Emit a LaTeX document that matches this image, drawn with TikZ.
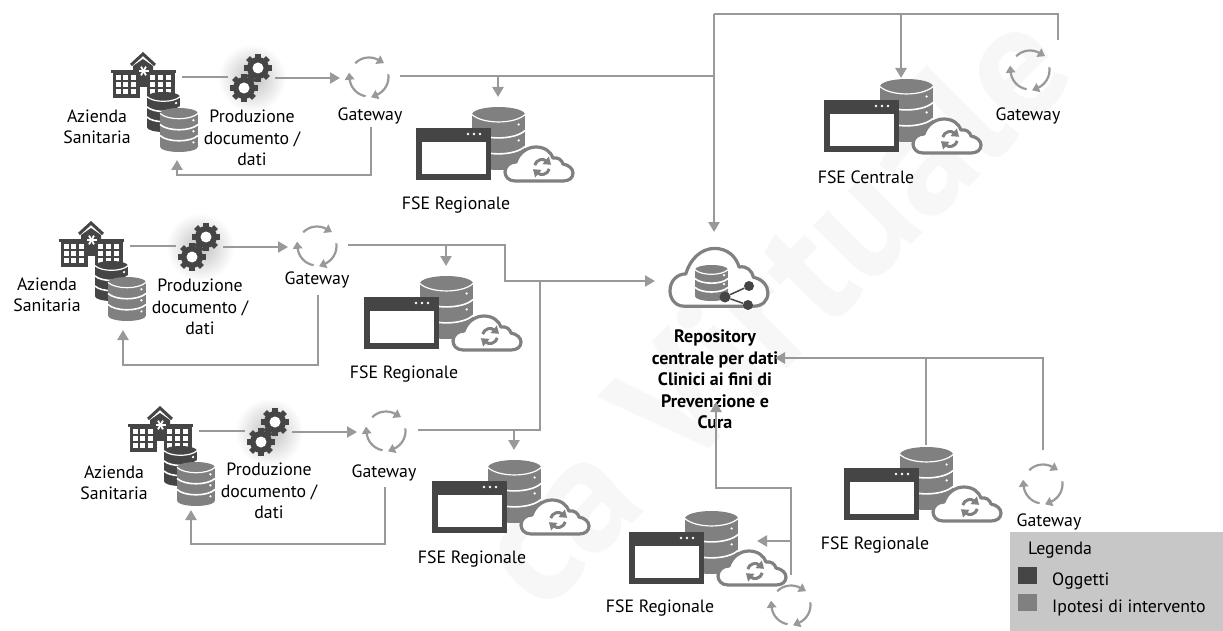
\documentclass[tikz,border=0pt]{standalone}
\usepackage{fontspec}
\usepackage{xcolor}
\setmainfont{PT Sans}
\usetikzlibrary{arrows.meta, positioning}

\definecolor{darkicon}{gray}{0.27}
\definecolor{midicon}{gray}{0.50}
\definecolor{linegray}{gray}{0.60}
\definecolor{legendgray}{gray}{0.78}

% cylinder: x, y, width, height, colour
\newcommand{\dbcyl}[5]{
    \pgfmathsetmacro{\rx}{#3/2}
    \pgfmathsetmacro{\ry}{#3/7}
    \pgfmathsetmacro{\cx}{#1+\rx}
    \pgfmathsetmacro{\re}{#1+#3}
    \pgfmathsetmacro{\yt}{#2+\ry}
    \pgfmathsetmacro{\yb}{#2+#4-\ry}
    \pgfmathsetmacro{\bh}{(\yb-\yt)/3}
    \fill[#5] (\cx,\yt) ellipse [x radius=\rx pt, y radius=\ry pt];
    \fill[#5] (\cx,\yb) ellipse [x radius=\rx pt, y radius=\ry pt];
    \fill[#5] (#1,\yt) rectangle (\re,\yb);
    \draw[white, line width=1.2pt] (#1,\yt) .. controls (#1+.2*#3,\yt+1.3*\ry) and (#1+.8*#3,\yt+1.3*\ry) .. (\re,\yt);
    \draw[white, line width=1.6pt] (#1,\yt+\bh) .. controls (#1+.2*#3,\yt+\bh+1.3*\ry) and (#1+.8*#3,\yt+\bh+1.3*\ry) .. (\re,\yt+\bh);
    \draw[white, line width=1.6pt] (#1,\yt+2*\bh) .. controls (#1+.2*#3,\yt+2*\bh+1.3*\ry) and (#1+.8*#3,\yt+2*\bh+1.3*\ry) .. (\re,\yt+2*\bh);
    \foreach \k in {0,1,2}
        \fill[white] (\re-.12*#3,\yt+\k*\bh+.62*\bh) circle (1.3pt);
}

\tikzset{
    cloudicon/.pic={
        \draw[midicon, fill=white, line width=3.2pt, line join=round]
            (10,36) .. controls (3,36) and (0,31) .. (0,27)
            .. controls (0,21) and (5,17) .. (11,17)
            .. controls (14,8) and (22,2) .. (31,2)
            .. controls (40,2) and (46,7) .. (48,13)
            .. controls (53,12) and (57,15) .. (58,19)
            .. controls (64,20) and (68,24) .. (68,28)
            .. controls (68,33) and (64,36) .. (58,36) -- cycle;
    },
    gearicon/.pic={
        \fill[darkicon] (0,0) circle (11pt);
        \foreach \a in {0,45,...,315}
            \draw[darkicon, line width=5.5pt] (\a:9pt) -- (\a:14pt);
        \fill[white] (0,0) circle (5.5pt);
    },
    gearpair/.pic={
        \shade[inner color=gray!50, outer color=white] (0,0) circle (34pt);
        \pic at (6,-10) {gearicon};
        \pic at (-8,10) {gearicon};
    },
    gateicon/.pic={
        \foreach \a in {135, 8, -100} {
            \draw[linegray, line width=2.2pt] (\a:19.5pt) arc [start angle=\a, delta angle=-75, radius=19.5pt];
            \fill[linegray, rotate=\a-75] (19.5pt,0pt) ++(-5pt,1pt) -- ++(10pt,0pt) -- ++(-5pt,-7pt) -- cycle;
        }
    },
    hospital/.pic={
        % origin at the top left of the icon
        \draw[darkicon, line width=3pt] (20,13) -- (32,2) -- (44,13);
        \fill[darkicon] (2,20) rectangle (64,46);
        \fill[darkicon] (22,14) -- (32,7) -- (42,14) -- (42,20) -- (22,20) -- cycle;
        \fill[darkicon] (0,18) rectangle (65,21);
        \foreach \x in {5,12,20,39,47,55}
            \foreach \y in {23,30,37}
                \fill[white] (\x,\y) rectangle +(5,5);
        \fill[white] (29,35) rectangle (36,46);
        \foreach \a in {0,60,120}
            \draw[white, line width=1.8pt] (32.5,19) ++(\a:5pt) -- ++(\a+180:10pt);
    },
    dbpair/.pic={
        \dbcyl{0}{0}{33}{40}{darkicon}
        \dbcyl{13}{16}{38}{44}{midicon}
    },
    fseicon/.pic={
        % origin at the top left of the window
        \dbcyl{56}{-21}{53}{63}{midicon}
        \fill[darkicon] (0,0) rectangle (75,52);
        \fill[white] (6,14) rectangle (70,46);
        \foreach \x in {52,58,64}
            \fill[white] (\x,6) circle (1.3pt);
        \pic at (89,17) {cloudicon};
        \begin{scope}[shift={(126,39)}]
            \foreach \a in {165, -15} {
                \draw[midicon, line width=3pt] (\a:7.5pt) arc [start angle=\a, delta angle=-115, radius=7.5pt];
                \fill[midicon, rotate=\a-115] (7.5pt,0pt) ++(-5pt,1.5pt) -- ++(10pt,0pt) -- ++(-5pt,-7pt) -- cycle;
            }
        \end{scope}
    }
}

\begin{document}
\begin{tikzpicture}[
        x=1pt, y=-1pt,
        every node/.style={inner sep=0pt, align=center, font=\fontsize{17.8}{21.5}\selectfont},
        boldlabel/.style={font=\bfseries\fontsize{18}{21.5}\selectfont},
        gatenode/.style={circle, minimum size=44pt},
        wire/.style={linegray, line width=2.8pt},
        wirearrow/.style={linegray, line width=2.8pt, -{Triangle[length=10pt,width=11pt]}},
        legendtext/.style={anchor=west}
    ]
    \useasboundingbox (0,0) rectangle (1223,631);

    % Watermark
    \node[rotate=45, text=black!3, font=\bfseries\fontsize{165}{165}\selectfont] (mark) at (770,305) {ca Virtuale};

    % Upper group
    \pic at (111,52) {hospital};
    \pic at (147,92) {dbpair};
    \pic at (252,78) {gearpair};
    \node (Ha) at (97,127) {Azienda\\Sanitaria};
    \node (Pa) at (252,138) {Produzione\\documento /\\dati};
    \node[gatenode] (Ga) at (369,77) {};
    \pic at (Ga) {gateicon};
    \node (Ta) at (370,116) {Gateway};
    \pic at (416,128) {fseicon};
    \node (Fa) at (456,205) {FSE Regionale};

    % Middle group
    \pic at (59,221) {hospital};
    \pic at (95,261) {dbpair};
    \pic at (200,247) {gearpair};
    \node (Hb) at (47,295) {Azienda\\Sanitaria};
    \node (Pb) at (200,307) {Produzione\\documento /\\dati};
    \node[gatenode] (Gb) at (317,246) {};
    \pic at (Gb) {gateicon};
    \node (Tb) at (317,280) {Gateway};
    \pic at (364,297) {fseicon};
    \node (Fb) at (404,374) {FSE Regionale};

    % Lower group
    \pic at (128,406) {hospital};
    \pic at (164,446) {dbpair};
    \pic at (269,432) {gearpair};
    \node (Hc) at (114,483) {Azienda\\Sanitaria};
    \node (Pc) at (269,491) {Produzione\\documento /\\dati};
    \node[gatenode] (Gc) at (386,431) {};
    \pic at (Gc) {gateicon};
    \node (Tc) at (384,473) {Gateway};
    \pic at (432,481) {fseicon};
    \node (Fc) at (472,559) {FSE Regionale};

    % Central FSE
    \pic at (824,100) {fseicon};
    \node (Fd) at (866,177) {FSE Centrale};
    \node[gatenode] (Gd) at (1030,70) {};
    \pic at (Gd) {gateicon};
    \node (Td) at (1028,116) {Gateway};

    % Right FSE
    \pic at (844,468) {fseicon};
    \node (Fe) at (875,545) {FSE Regionale};
    \node[gatenode] (Ge) at (1043,484) {};
    \pic at (Ge) {gateicon};
    \node (Te) at (1049,522) {Gateway};

    % Bottom FSE
    \pic at (629,532) {fseicon};
    \node (Ff) at (660,608) {FSE Regionale};
    \node[gatenode] (Gf) at (791,605) {};
    \pic at (Gf) {gateicon};

    % Repository
    \pic[xscale=1.44, yscale=1.7] at (670,245) {cloudicon};
    \dbcyl{695}{265}{33}{36}{midicon}
    \node[circle, fill=darkicon, minimum size=10pt] (Na) at (749,286) {};
    \node[circle, fill=darkicon, minimum size=10pt] (Nb) at (748,305) {};
    \node[circle, fill=darkicon, minimum size=11pt] (Nc) at (725,297) {};
    \draw[darkicon, line width=1.5pt] (Nc) -- (Na);
    \draw[darkicon, line width=1.5pt] (Nc) -- (Nb);
    \node[boldlabel] (R) at (715,379.5) {Repository\\centrale per dati\\Clinici ai fini di\\Prevenzione e\\Cura};

    % Connector ends
    \coordinate (Aa) at (182,77);
    \coordinate (Ab) at (228,77);
    \coordinate (Ac) at (275,78);
    \coordinate (Ad) at (340,78);
    \coordinate (Ba) at (130,246);
    \coordinate (Bb) at (176,246);
    \coordinate (Bc) at (223,247);
    \coordinate (Bd) at (288,247);
    \coordinate (Ca) at (199,431);
    \coordinate (Cb) at (245,431);
    \coordinate (Cc) at (292,432);
    \coordinate (Cd) at (357,432);
    \coordinate (Da) at (371,127);
    \coordinate (Db) at (177,175);
    \coordinate (Dc) at (177,160);
    \coordinate (Ea) at (318,295);
    \coordinate (Eb) at (123,365);
    \coordinate (Ec) at (123,330);
    \coordinate (Ka) at (385,487);
    \coordinate (Kb) at (191,544);
    \coordinate (Kc) at (191,510);
    \coordinate (Ma) at (400,76);
    \coordinate (Mb) at (714,76);
    \coordinate (Mc) at (714,14);
    \coordinate (Md) at (714,232);
    \coordinate (Me) at (901,14);
    \coordinate (Mf) at (901,78);
    \coordinate (Mg) at (1058,14);
    \coordinate (Mh) at (1058,40);
    \coordinate (Mi) at (498,76);
    \coordinate (Mj) at (498,97);
    \coordinate (Oa) at (348,245);
    \coordinate (Ob) at (505,281);
    \coordinate (Oc) at (655,281);
    \coordinate (Od) at (446,245);
    \coordinate (Oe) at (446,266);
    \coordinate (Pd) at (418,430);
    \coordinate (Pe) at (540,281);
    \coordinate (Pf) at (514,430);
    \coordinate (Pg) at (514,450);
    \coordinate (Qa) at (1043,450);
    \coordinate (Qb) at (775,358);
    \coordinate (Qc) at (926,358);
    \coordinate (Qd) at (926,445);
    \coordinate (Sa) at (791,575);
    \coordinate (Sb) at (716,488);
    \coordinate (Sc) at (716,402);
    \coordinate (Sd) at (791,541);
    \coordinate (Se) at (757,541);

    % Connectors
    \draw[wire] (Aa) -- (Ab);
    \draw[wirearrow] (Ac) -- (Ad);
    \draw[wire] (Ba) -- (Bb);
    \draw[wirearrow] (Bc) -- (Bd);
    \draw[wire] (Ca) -- (Cb);
    \draw[wirearrow] (Cc) -- (Cd);
    \draw[wirearrow] (Da) |- (Db) -- (Dc);
    \draw[wirearrow] (Ea) |- (Eb) -- (Ec);
    \draw[wirearrow] (Ka) |- (Kb) -- (Kc);
    \draw[wire] (Ma) -- (Mb);
    \draw[wirearrow] (Mc) -- (Md);
    \draw[wire] (Mc) -- (Mg) -- (Mh);
    \draw[wirearrow] (Me) -- (Mf);
    \draw[wirearrow] (Mi) -- (Mj);
    \draw[wirearrow] (Oa) -| (Ob) -- (Oc);
    \draw[wirearrow] (Od) -- (Oe);
    \draw[wire] (Pd) -| (Pe);
    \draw[wirearrow] (Pf) -- (Pg);
    \draw[wirearrow] (Qa) |- (Qb);
    \draw[wire] (Qc) -- (Qd);
    \draw[wirearrow] (Sa) |- (Sb) -- (Sc);
    \draw[wirearrow] (Sd) -- (Se);

    % Legend
    \fill[legendgray] (1010,532) rectangle (1223,631);
    \node[legendtext] (Lt) at (1028,550) {Legenda};
    \fill[darkicon] (1018,567) rectangle (1037,584);
    \fill[midicon] (1018,594) rectangle (1037,611);
    \node[legendtext] (La) at (1052,581) {Oggetti};
    \node[legendtext] (Lb) at (1052,608) {Ipotesi di intervento};
\end{tikzpicture}
\end{document}
